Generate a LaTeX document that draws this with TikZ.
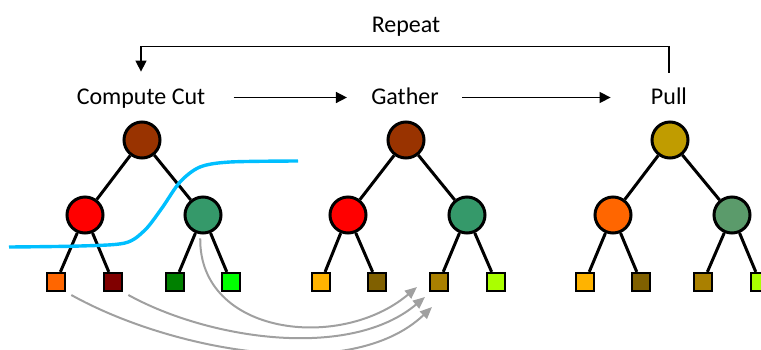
\documentclass[tikz,border=0pt]{standalone}
\usepackage{fontspec}
\setmainfont{Carlito}
\usetikzlibrary{arrows.meta}

\definecolor{rootbrown}{HTML}{993300}
\definecolor{rootgold}{HTML}{C09C00}
\definecolor{nodegreen}{HTML}{35996A}
\definecolor{pullgreen}{HTML}{5B9B6B}
\definecolor{leaforange}{HTML}{FF6600}
\definecolor{leafmaroon}{HTML}{800000}
\definecolor{leafgreen}{HTML}{008000}
\definecolor{leaflime}{HTML}{00FF00}
\definecolor{leafamber}{HTML}{FFB300}
\definecolor{leafolive}{HTML}{806000}
\definecolor{leafochre}{HTML}{AA8000}
\definecolor{leafyellow}{HTML}{AAFF00}
\definecolor{cutblue}{HTML}{00BFFF}
\definecolor{movegray}{HTML}{A0A0A0}

\begin{document}
\begin{tikzpicture}[x=0.5pt,y=-0.5pt,
        inner/.style={circle,draw,line width=1.5pt,minimum size=18pt,inner sep=0pt},
        leaf/.style={rectangle,draw,line width=1.1pt,minimum size=9pt,inner sep=0pt},
        branch/.style={line width=1.5pt},
        stage/.style={font=\fontsize{12}{14}\selectfont,inner sep=0pt,text height=9pt,text depth=2.5pt,anchor=base},
        flow/.style={line width=0.75pt,-{Triangle[length=5.5pt,width=5.5pt]}},
        move/.style={draw=movegray,line width=1pt,-{Triangle[length=6pt,width=5pt]}}]
        \useasboundingbox (0,0) rectangle (761,349);

        % stage names
        \node[stage] (repeat) at (406,32) {Repeat};
        \node[stage] (cut) at (141,104) {Compute Cut};
        \node[stage] (gather) at (405,104) {Gather};
        \node[stage] (pull) at (669,104) {Pull};

        \draw[flow,shorten <=14pt,shorten >=12pt] (cut) -- (gather);
        \draw[flow,shorten <=11.5pt,shorten >=20pt] (gather) -- (pull);
        \draw[flow,shorten <=6.5pt,shorten >=7pt] (pull.north) -- ++(0,-39) -| (cut.north);

        % compute cut tree
        \node[inner,fill=rootbrown] (root1) at (142,140) {};
        \node[inner,fill=red] (left1) at (85,215) {};
        \node[inner,fill=nodegreen] (right1) at (203,215) {};
        \node[leaf,fill=leaforange] (leaf1a) at (56,282) {};
        \node[leaf,fill=leafmaroon] (leaf1b) at (113,282) {};
        \node[leaf,fill=leafgreen] (leaf1c) at (175,282) {};
        \node[leaf,fill=leaflime] (leaf1d) at (231,282) {};
        \draw[branch] (root1) -- (left1);
        \draw[branch] (root1) -- (right1);
        \draw[branch] (left1) -- (leaf1a);
        \draw[branch] (left1) -- (leaf1b);
        \draw[branch] (right1) -- (leaf1c);
        \draw[branch] (right1) -- (leaf1d);

        % gather tree
        \node[inner,fill=rootbrown] (root2) at (406,140) {};
        \node[inner,fill=red] (left2) at (348,215) {};
        \node[inner,fill=nodegreen] (right2) at (467,215) {};
        \node[leaf,fill=leafamber] (leaf2a) at (321,282) {};
        \node[leaf,fill=leafolive] (leaf2b) at (377,282) {};
        \node[leaf,fill=leafochre] (leaf2c) at (439,282) {};
        \node[leaf,fill=leafyellow] (leaf2d) at (496,282) {};
        \draw[branch] (root2) -- (left2);
        \draw[branch] (root2) -- (right2);
        \draw[branch] (left2) -- (leaf2a);
        \draw[branch] (left2) -- (leaf2b);
        \draw[branch] (right2) -- (leaf2c);
        \draw[branch] (right2) -- (leaf2d);

        % pull tree
        \node[inner,fill=rootgold] (root3) at (670,140) {};
        \node[inner,fill=leaforange] (left3) at (613,215) {};
        \node[inner,fill=pullgreen] (right3) at (732,215) {};
        \node[leaf,fill=leafamber] (leaf3a) at (585,282) {};
        \node[leaf,fill=leafolive] (leaf3b) at (641,282) {};
        \node[leaf,fill=leafochre] (leaf3c) at (703,282) {};
        \node[leaf,fill=leafyellow] (leaf3d) at (760,282) {};
        \draw[branch] (root3) -- (left3);
        \draw[branch] (root3) -- (right3);
        \draw[branch] (left3) -- (leaf3a);
        \draw[branch] (left3) -- (leaf3b);
        \draw[branch] (right3) -- (leaf3c);
        \draw[branch] (right3) -- (leaf3d);

        % the cut
        \draw[cutblue,line width=1.7pt] plot[smooth,tension=0.5] coordinates
            {(9,247) (80,246) (125,243) (145,230) (162,208) (180,182) (200,167) (230,162) (298,161)};

        % moved leaves
        \coordinate (tipA) at (432,307);
        \coordinate (tipB) at (425,297);
        \coordinate (tipC) at (417,287);
        \draw[move,shorten <=3pt] (leaf1a.south east) .. controls (170,350) and (350,385) .. (tipA);
        \draw[move,shorten <=3pt] (leaf1b.south east) .. controls (210,340) and (350,360) .. (tipB);
        \draw[move,shorten <=2pt] (right1.262) .. controls (199,335) and (340,352) .. (tipC);
\end{tikzpicture}
\end{document}
